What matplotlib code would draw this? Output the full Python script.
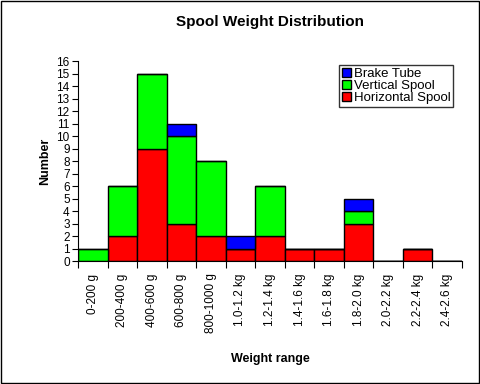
import numpy as np
import matplotlib
matplotlib.use("Agg")
import matplotlib.pyplot as plt
from matplotlib.patches import Rectangle

plt.rcParams["font.family"] = ["Liberation Sans", "DejaVu Sans"]

# data
categories = ["0-200 g", "200-400 g", "400-600 g", "600-800 g", "800-1000 g",
              "1.0-1.2 kg", "1.2-1.4 kg", "1.4-1.6 kg", "1.6-1.8 kg",
              "1.8-2.0 kg", "2.0-2.2 kg", "2.2-2.4 kg", "2.4-2.6 kg"]
horizontal = [0, 2, 9, 3, 2, 1, 2, 1, 1, 3, 0, 1, 0]
vertical = [1, 4, 6, 7, 6, 0, 4, 0, 0, 1, 0, 0, 0]
brake = [0, 0, 0, 1, 0, 1, 0, 0, 0, 1, 0, 0, 0]

fig = plt.figure(figsize=(4.8, 3.84), dpi=100)
fig.patch.set_facecolor("white")
fig.patches.append(Rectangle((0.002, 0.002), 0.996, 0.996, transform=fig.transFigure,
                             fill=False, edgecolor="black", linewidth=1))

ax = fig.add_axes([0.1625, 0.320, 0.80, 0.521])
x = np.arange(len(categories))
h = np.array(horizontal)
v = np.array(vertical)
b = np.array(brake)
kw = dict(width=1.0, align="edge", edgecolor="black", linewidth=1)
ax.bar(x, h, color="#ff0000", label="Horizontal Spool", **kw)
ax.bar(x, v, bottom=h, color="#00ff00", label="Vertical Spool", **kw)
ax.bar(x, b, bottom=h + v, color="#0000ff", label="Brake Tube", **kw)

ax.set_xlim(0, len(categories))
ax.set_ylim(0, 16)
ax.set_yticks(range(0, 17))
ax.set_xticks(np.arange(len(categories) + 1))
ax.set_xticklabels([])
ax.set_xticks(x + 0.5, minor=True)
ax.set_xticklabels(categories, minor=True, rotation=90, fontsize=8.5)
ax.tick_params(axis="x", which="minor", length=0, pad=9)
ax.tick_params(axis="x", which="major", length=5, direction="out")
ax.tick_params(axis="y", length=4, direction="out", labelsize=8.5, pad=2)
ax.spines["top"].set_visible(False)
ax.spines["right"].set_visible(False)

ax.set_title("Spool Weight Distribution", fontsize=11, fontweight="bold", pad=25)
ax.set_ylabel("Number", fontsize=9, fontweight="bold", labelpad=4)
ax.set_xlabel("Weight range", fontsize=9, fontweight="bold", labelpad=14)

handles, labels = ax.get_legend_handles_labels()
leg = ax.legend(handles[::-1], labels[::-1], loc="upper right", bbox_to_anchor=(0.977, 0.98),
                fontsize=9.5, frameon=True, fancybox=False, edgecolor="black",
                handlelength=0.7, handleheight=0.7, handletextpad=0.2,
                borderpad=0.2, labelspacing=0.0, borderaxespad=0)
leg.get_frame().set_linewidth(1)

fig.savefig("out.png", dpi=100)
